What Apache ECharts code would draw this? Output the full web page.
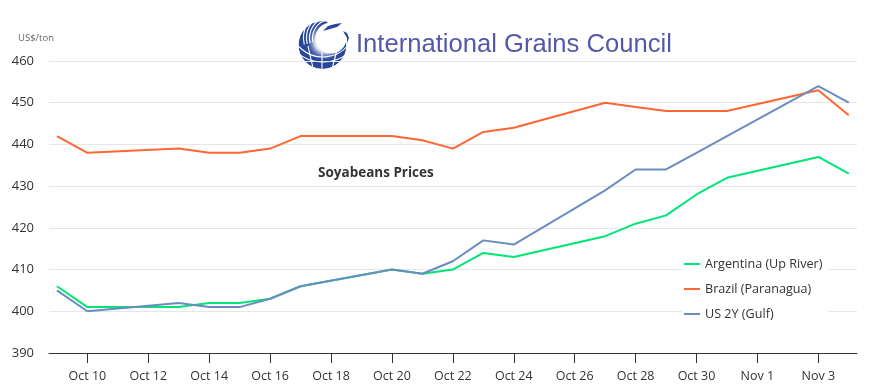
<!DOCTYPE html>
<html>
<head>
<meta charset="utf-8">
<style>
  html, body { margin: 0; padding: 0; background: #fff; }
  #chart { width: 878px; height: 392px; }
</style>
<script src="https://cdn.jsdelivr.net/npm/echarts@6/dist/echarts.min.js"></script>
</head>
<body>
<div id="chart"></div>
<script>
const dates = ['2014-10-09', '2014-10-10', '2014-10-13', '2014-10-14', '2014-10-15', '2014-10-16', '2014-10-17', '2014-10-20', '2014-10-21', '2014-10-22', '2014-10-23', '2014-10-24', '2014-10-27', '2014-10-28', '2014-10-29', '2014-10-30', '2014-10-31', '2014-11-03', '2014-11-04']
const argentina = [406, 401, 401, 402, 402, 403, 406, 410, 409, 410, 414, 413, 418, 421, 423, 428, 432, 437, 433]
const brazil = [442, 438, 439, 438, 438, 439, 442, 442, 441, 439, 443, 444, 450, 449, 448, 448, 448, 453, 447]
const us2y = [405, 400, 402, 401, 401, 403, 406, 410, 409, 412, 417, 416, 429, 434, 434, 438, 442, 454, 450]
const tickDates = ['2014-10-10', '2014-10-12', '2014-10-14', '2014-10-16', '2014-10-18', '2014-10-20', '2014-10-22', '2014-10-24', '2014-10-26', '2014-10-28', '2014-10-30', '2014-11-01', '2014-11-03']
const tickLabels = ['Oct 10', 'Oct 12', 'Oct 14', 'Oct 16', 'Oct 18', 'Oct 20', 'Oct 22', 'Oct 24', 'Oct 26', 'Oct 28', 'Oct 30', 'Nov 1', 'Nov 3']

const DAY = 86400000
const FONT = '"Open Sans", sans-serif'
const toTime = d => Date.parse(d + 'T00:00:00Z')
const tickTimes = tickDates.map(toTime)

function lineSeries(name, color, values) {
  return {
    name: name,
    type: 'line',
    showSymbol: false,
    symbol: 'none',
    animation: false,
    lineStyle: { color: color, width: 2 },
    itemStyle: { color: color },
    data: dates.map((d, i) => [toTime(d), values[i]])
  }
}

function stripe(r) {
  return { type: 'arc', shape: { cx: 331, cy: 38, r: r, startAngle: 2.9, endAngle: 5 }, style: { stroke: '#fff', lineWidth: 1.1, fill: null } }
}

// logo, approximated with shapes
const blue = '#27479b'
const logo = [
  { type: 'rect', shape: { x: 284, y: 0, width: 430, height: 66 }, style: { fill: '#fff' } },
  { type: 'circle', shape: { cx: 322.5, cy: 45, r: 24 }, style: { fill: blue } },
  {
    type: 'circle',
    shape: { cx: 325, cy: 42, r: 20 },
    style: {
      fill: {
        type: 'radial', x: 0.5, y: 0.5, r: 0.5,
        colorStops: [{ offset: 0.5, color: '#e4e4f2' }, { offset: 1, color: 'rgba(39,71,155,0)' }]
      }
    }
  },
  { type: 'circle', shape: { cx: 331, cy: 38, r: 15.5 }, style: { fill: '#fff' } },
  { type: 'circle', shape: { cx: 342, cy: 26, r: 15 }, style: { fill: '#fff' } },
  stripe(18.5),
  stripe(21.5),
  stripe(24.5),
  stripe(27.5),
  { type: 'arc', shape: { cx: 323, cy: 24, r: 33, startAngle: 0.7, endAngle: 2.5 }, style: { stroke: '#fff', lineWidth: 1.1, fill: null } },
  { type: 'arc', shape: { cx: 323, cy: 22, r: 40, startAngle: 0.9, endAngle: 2.3 }, style: { stroke: '#fff', lineWidth: 1.1, fill: null } },
  { type: 'line', shape: { x1: 308, y1: 46, x2: 313, y2: 68 }, style: { stroke: '#fff', lineWidth: 1.1 } },
  { type: 'line', shape: { x1: 322, y1: 52, x2: 322, y2: 70 }, style: { stroke: '#fff', lineWidth: 1.1 } },
  { type: 'line', shape: { x1: 337, y1: 50, x2: 332, y2: 69 }, style: { stroke: '#fff', lineWidth: 1.1 } },
  // hides what runs outside the globe
  { type: 'circle', shape: { cx: 322.5, cy: 45, r: 31 }, style: { fill: null, stroke: '#fff', lineWidth: 14 } },
  { type: 'polygon', shape: { points: [[323, 31], [328, 26], [335, 24], [342, 23], [337, 27], [330, 29]] }, style: { fill: blue } },
  { type: 'polygon', shape: { points: [[343, 31], [347, 33], [349, 38], [347, 43], [347, 38]] }, style: { fill: blue } },
  {
    type: 'text',
    x: 356,
    y: 45,
    style: { text: 'International Grains Council', font: '25.6px "Liberation Sans", Arial, sans-serif', fill: '#5558a8', verticalAlign: 'middle' }
  },
  {
    type: 'text',
    x: 18,
    y: 38,
    style: { text: 'US$/ton', font: '9.5px ' + FONT, fill: '#666', verticalAlign: 'middle' }
  },
  {
    type: 'text',
    x: 318,
    y: 173,
    style: { text: 'Soyabeans Prices', font: 'bold 13.5px ' + FONT, fill: '#333', verticalAlign: 'middle' }
  }
]

const chart = echarts.init(document.getElementById('chart'), null, { renderer: 'canvas' })
chart.setOption({
  animation: false,
  backgroundColor: '#fff',
  grid: { left: 49, top: 61, width: 808, height: 292, containLabel: false },
  xAxis: {
    type: 'value',
    min: toTime(dates[0]) - 0.26 * DAY,
    max: toTime(dates[dates.length - 1]) + 0.27 * DAY,
    axisLine: { lineStyle: { color: '#333', width: 1 } },
    axisTick: { length: 10, customValues: tickTimes, lineStyle: { color: '#333' } },
    splitLine: { show: false },
    axisLabel: {
      customValues: tickTimes,
      color: '#333',
      fontFamily: FONT,
      fontSize: 12.5,
      margin: 17,
      hideOverlap: false,
      formatter: value => tickLabels[tickTimes.indexOf(value)]
    }
  },
  yAxis: {
    type: 'value',
    min: 390,
    max: 460,
    interval: 10,
    axisLine: { show: false },
    axisTick: { show: false },
    splitLine: { lineStyle: { color: '#e6e6e6', width: 1 } },
    axisLabel: { color: '#333', fontFamily: FONT, fontSize: 13, margin: 15 }
  },
  legend: {
    orient: 'vertical',
    left: 682,
    top: 252,
    padding: [5, 6, 5, 2],
    itemWidth: 16,
    itemHeight: 2,
    itemGap: 11,
    icon: 'rect',
    backgroundColor: '#fff',
    selectedMode: false,
    data: ['Argentina (Up River)', 'Brazil (Paranagua)', 'US 2Y (Gulf)'],
    textStyle: { color: '#333', fontFamily: FONT, fontSize: 12.6, padding: [0, 0, 0, 0], height: 14, lineHeight: 14 }
  },
  series: [
    lineSeries('Argentina (Up River)', '#00e676', argentina),
    lineSeries('Brazil (Paranagua)', '#ff6633', brazil),
    lineSeries('US 2Y (Gulf)', '#6b8cbe', us2y)
  ],
  graphic: logo
})
</script>
</body>
</html>
